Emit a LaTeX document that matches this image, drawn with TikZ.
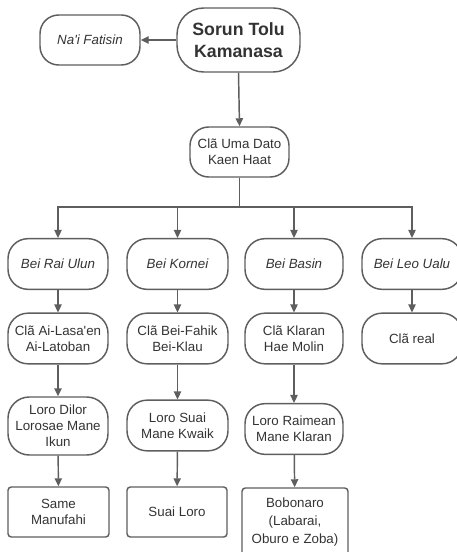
\documentclass[tikz,border=0pt]{standalone}
\usepackage{fontspec}
\setmainfont[Ligatures=TeXOff]{Liberation Sans}
\usetikzlibrary{arrows.meta}
\definecolor{edge}{HTML}{5E5E5E}
\definecolor{ink}{HTML}{333333}
\tikzset{
  box/.style={draw=edge, line width=1.1pt, text=ink, align=center, inner sep=0pt,
    font=\fontsize{10}{12}\selectfont, minimum width=75pt, minimum height=38pt},
  pill/.style={box, rounded corners=15pt},
  plain/.style={box, rounded corners=2.5pt},
  arr/.style={draw=edge, line width=1.1pt, -{Triangle[length=6pt, width=5.5pt]}},
}
\begin{document}
\begin{tikzpicture}[x=0.75pt, y=-0.75pt]
\useasboundingbox (0,0) rectangle (456,552);

% top level
\node[pill, font=\fontsize{13.3}{16.5}\selectfont\bfseries, minimum width=92.25pt, minimum height=48pt, rounded corners=20pt] (sorun) at (238.5,40) {Sorun Tolu\\Kamanasa};
\node[pill, font=\fontsize{10}{12}\selectfont\itshape, minimum height=37.5pt, rounded corners=14pt] (nai) at (90,40) {Na'i Fatisin};
\node[pill, minimum width=74.25pt, minimum height=37.5pt, rounded corners=14pt] (uma) at (239.5,152) {Clã Uma Dato\\Kaen Haat};

% branches
\node[pill, font=\fontsize{10}{12}\selectfont\itshape] (bei1) at (58,264) {Bei Rai Ulun};
\node[pill, font=\fontsize{10}{12}\selectfont\itshape, minimum width=75.75pt] (bei2) at (177.5,264) {Bei Kornei};
\node[pill, font=\fontsize{10}{12}\selectfont\itshape, minimum width=73.5pt] (bei3) at (294,264) {Bei Basin};
\node[pill, font=\fontsize{10}{12}\selectfont\itshape] (bei4) at (412,264) {Bei Leo Ualu};

\node[pill] (cla1) at (58,338.5) {Clã Ai-Lasa'en\\Ai-Latoban};
\node[pill, minimum width=75.75pt] (cla2) at (177.5,338.5) {Clã Bei-Fahik\\Bei-Klau};
\node[pill, minimum width=73.5pt] (cla3) at (294,338.5) {Clã Klaran\\Hae Molin};
\node[pill] (cla4) at (412,338.5) {Clã real};

\node[pill, minimum height=43.5pt, rounded corners=16pt] (loro1) at (58,426) {Loro Dilor\\Lorosae Mane\\Ikun};
\node[pill, minimum width=75.75pt] (loro2) at (177.5,425.5) {Loro Suai\\Mane Kwaik};
\node[pill, minimum width=73.5pt] (loro3) at (294,429) {Loro Raimean\\Mane Klaran};

\node[plain, minimum width=75.75pt, minimum height=37.5pt] (same) at (58.5,512) {Same\\Manufahi};
\node[plain, minimum height=37.5pt] (suai) at (177,512) {Suai Loro};
\node[plain, minimum width=79.5pt, minimum height=51pt, font=\fontsize{10}{13.5}\selectfont] (bobo) at (295,522) {Bobonaro\\(Labarai,\\Oburo e Zoba)};

% connectors
\coordinate (bus) at (0,207);
\draw[arr] (sorun.west) -- (nai.east);
\draw[arr] (sorun.south) -- (uma.north);
\foreach \b in {bei1,bei2,bei3,bei4}
  \draw[arr] (uma.south) -- (uma.south |- bus) -| (\b.north);
\draw[arr] (bei1) -- (cla1);
\draw[arr] (bei2) -- (cla2);
\draw[arr] (bei3) -- (cla3);
\draw[arr] (bei4) -- (cla4);
\draw[arr] (cla1) -- (loro1);
\draw[arr] (cla2) -- (loro2);
\draw[arr] (cla3) -- (loro3);
\draw[arr] (loro1) -- (same);
\draw[arr] (loro2) -- (suai);
\draw[arr] (loro3) -- (bobo);
\end{tikzpicture}
\end{document}
